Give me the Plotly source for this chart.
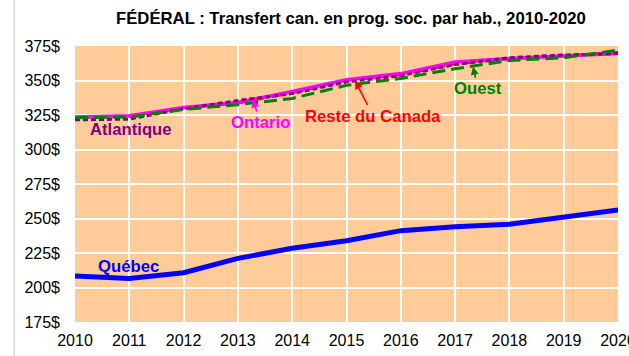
import plotly.graph_objects as go

years = list(range(2010, 2021))

quebec = [208.3, 206.6, 210.7, 221.1, 228.4, 233.9, 241.2, 244.1, 245.8, 250.6, 256.2]
ontario = [323.5, 324.5, 330.5, 334.0, 342.0, 350.5, 355.0, 363.5, 366.0, 368.0, 369.5]
atlantique = [321.5, 322.0, 329.5, 335.5, 340.5, 349.0, 353.5, 361.5, 366.5, 368.5, 369.5]
ouest = [323.0, 323.5, 329.0, 332.5, 337.0, 346.5, 351.5, 358.5, 364.5, 366.5, 372.0]
reste_canada = [323.0, 324.0, 330.0, 333.5, 341.0, 350.0, 354.0, 362.0, 365.5, 368.0, 370.5]

y_ticks = [175, 200, 225, 250, 275, 300, 325, 350, 375]

FONT = "Liberation Sans, Arial, sans-serif"

fig = go.Figure()

fig.add_trace(go.Scatter(x=years, y=reste_canada, mode="lines", name="Reste du Canada",
                         line=dict(color="#FF0000", width=2.5, dash="10px,3px,2px,3px")))
fig.add_trace(go.Scatter(x=years, y=ontario, mode="lines", name="Ontario",
                         line=dict(color="#FF00FF", width=3.5)))
fig.add_trace(go.Scatter(x=years, y=atlantique, mode="lines", name="Atlantique",
                         line=dict(color="#800080", width=3, dash="5px,3px")))
fig.add_trace(go.Scatter(x=years, y=ouest, mode="lines", name="Ouest",
                         line=dict(color="#008000", width=3, dash="13px,6px")))
fig.add_trace(go.Scatter(x=years, y=quebec, mode="lines", name="Québec",
                         line=dict(color="#0000FF", width=5)))


def interp(series, x):
    i = int(x - years[0])
    i = min(i, len(series) - 2)
    t = x - years[i]
    return series[i] + (series[i + 1] - series[i]) * t


label_font = dict(family=FONT, size=16.7)

annotations = [
    dict(x=2011.03, y=314.5, text="<b>Atlantique</b>", showarrow=False,
         font=dict(label_font, color="#800080")),
    dict(x=2010.98, y=215.5, text="<b>Québec</b>", showarrow=False,
         font=dict(label_font, color="#0000FF")),
    dict(x=2013.28, y=interp(ontario, 2013.28), text="<b>Ontario</b>", showarrow=True,
         ax=7, ay=23, arrowhead=2, arrowsize=1, arrowwidth=1.6, arrowcolor="#FF00FF",
         font=dict(label_font, color="#FF00FF")),
    dict(x=2015.16, y=interp(reste_canada, 2015.16) - 1, text="<b>Reste du Canada</b>", showarrow=True,
         ax=18, ay=35, arrowhead=2, arrowsize=1, arrowwidth=1.6, arrowcolor="#FF0000",
         font=dict(label_font, color="#FF0000")),
    dict(x=2017.33, y=interp(ouest, 2017.33) - 0.5, text="<b>Ouest</b>", showarrow=True,
         ax=5, ay=22, arrowhead=2, arrowsize=1, arrowwidth=1.6, arrowcolor="#008000",
         font=dict(label_font, color="#008000")),
]

fig.update_layout(
    width=629, height=356,
    margin=dict(l=75, r=11, t=46, b=34),
    paper_bgcolor="white",
    plot_bgcolor="#FFCC99",
    showlegend=False,
    font=dict(family=FONT, size=16, color="black"),
    title=dict(text="<b>FÉDÉRAL : Transfert can. en prog. soc. par hab., 2010-2020</b>",
               x=0.558, xanchor="center", y=0.949, yanchor="middle",
               font=dict(family=FONT, size=16.7, color="black")),
    xaxis=dict(range=[2010, 2020], tickmode="array", tickvals=years,
               ticktext=[str(y) for y in years], showgrid=True, gridcolor="white",
               gridwidth=2, zeroline=False, showline=False, ticks="",
               automargin=False, ticklabeloverflow="allow", ticklabelstandoff=7,
               tickfont=dict(size=16)),
    yaxis=dict(range=[175, 375], tickmode="array", tickvals=y_ticks,
               ticktext=[f"{v}$" for v in y_ticks], showgrid=True, gridcolor="white",
               gridwidth=2, zeroline=False, showline=False, ticks="",
               automargin=False, ticklabeloverflow="allow", ticklabelstandoff=14,
               tickfont=dict(size=16)),
    annotations=annotations,
    shapes=[dict(type="line", xref="paper", yref="paper",
                 x0=-0.112, x1=-0.112, y0=-0.13, y1=1.17,
                 line=dict(color="#BFBFBF", width=1))],
)

fig.write_html("out.html")
